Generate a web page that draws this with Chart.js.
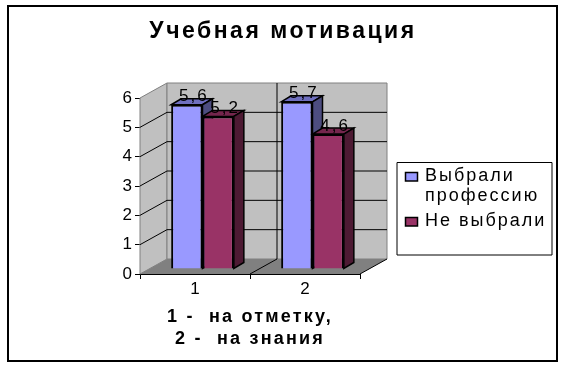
<!DOCTYPE html>
<html><head><meta charset="utf-8">
<style>html,body{margin:0;padding:0;background:#fff}#w{position:relative;width:569px;height:369px}</style>
<script src="https://cdn.jsdelivr.net/npm/chart.js@4"></script>
</head><body><div id="w"><canvas id="c" width="569" height="369"></canvas></div>
<script>
const categories = ['1', '2'];
const seriesNames = ['Выбрали профессию', 'Не выбрали'];
const chosen = [5.6, 5.7];
const notChosen = [5.2, 4.6];
const yTicks = [0, 1, 2, 3, 4, 5, 6];
const titleText = 'Учебная мотивация';
const axisTitle = ['1 -  на отметку,', '2 -  на знания'];
const legendLines = [['Выбрали', 'профессию'], ['Не выбрали']];

const FF = '"Liberation Sans", Arial, sans-serif';
const wallDX = 27, wallDY = -15;   // depth of the box
const barDX = 10, barDY = -6;      // depth of a bar
const shiftX = 7.5, shiftY = -5;   // bars stand mid-way in the box
const tones = [
  {front:'#9999FF', top:'#6F6FBF', side:'#4D4D80'},
  {front:'#993366', top:'#74264D', side:'#4D1A33'}
];

function poly(ctx, pts, fill, stroke, lw){
  ctx.beginPath();
  pts.forEach((p,i)=> i?ctx.lineTo(p[0],p[1]):ctx.moveTo(p[0],p[1]));
  ctx.closePath();
  if(fill){ctx.fillStyle=fill;ctx.fill();}
  if(stroke){ctx.strokeStyle=stroke;ctx.lineWidth=lw||1;ctx.stroke();}
}
function line(ctx,a,b,c,d,col,lw){
  ctx.beginPath();ctx.moveTo(a,b);ctx.lineTo(c,d);ctx.strokeStyle=col;ctx.lineWidth=lw||1;ctx.stroke();
}
function spaced(obj,name,ls){
  if(obj[name].__w) return;
  const f=obj[name];
  obj[name]=function(){
    const ctx=this.ctx;
    const old=ctx.letterSpacing;ctx.letterSpacing=ls;
    const r=f.apply(this,arguments);
    ctx.letterSpacing=old;return r;
  };
  obj[name].__w=true;
}

const scene = {
  id:'scene',
  afterLayout(chart){
    const tb=chart.titleBlock;
    tb.left=0;tb.right=566;tb.width=566;
    spaced(tb,'draw','2.5px');
    spaced(chart.scales.x,'drawTitle','2.2px');
  },
  beforeDraw(chart){
    const ctx=chart.ctx;
    ctx.save();
    ctx.fillStyle='#fff';ctx.fillRect(0,0,569,369);
    ctx.strokeStyle='#000';ctx.lineWidth=2;ctx.strokeRect(8,6,549,355);
    ctx.restore();
  },
  beforeDatasetsDraw(chart){
    const ctx=chart.ctx, x=chart.scales.x, y=chart.scales.y;
    const L=x.left,R=x.right,B=y.getPixelForValue(0),T=y.getPixelForValue(6);
    ctx.save();
    // walls and floor
    poly(ctx,[[L,T],[L+wallDX,T+wallDY],[L+wallDX,B+wallDY],[L,B]],'#C0C0C0','#808080');
    poly(ctx,[[L+wallDX,T+wallDY],[R+wallDX,T+wallDY],[R+wallDX,B+wallDY],[L+wallDX,B+wallDY]],'#C0C0C0','#808080');
    poly(ctx,[[L,B],[L+wallDX,B+wallDY],[R+wallDX,B+wallDY],[R,B]],'#808080',null);
    yTicks.slice(1,-1).forEach(v=>{
      const p=y.getPixelForValue(v);
      line(ctx,L,p,L+wallDX,p+wallDY,'#000');
      line(ctx,L+wallDX,p+wallDY,R+wallDX,p+wallDY,'#000');
    });
    const mid=(L+R)/2;
    line(ctx,mid+wallDX,T+wallDY,mid+wallDX,B+wallDY,'#000');
    line(ctx,mid,B,mid+wallDX,B+wallDY,'#000');
    line(ctx,R,B,R+wallDX,B+wallDY,'#000');
    ctx.restore();
    // shift bars into the box, draw their depth faces
    ctx.save();
    ctx.translate(shiftX,shiftY);
    categories.forEach((_,j)=>{
      chart.data.datasets.forEach((ds,i)=>{
        const b=chart.getDatasetMeta(i).data[j];
        const l=b.x-b.width/2,r=b.x+b.width/2,t=b.y,bt=b.base;
        poly(ctx,[[l,t],[l+barDX,t+barDY],[r+barDX,t+barDY],[r,t]],tones[i].top,'#000',1.5);
        poly(ctx,[[r,t],[r+barDX,t+barDY],[r+barDX,bt+barDY],[r,bt]],tones[i].side,'#000',1.5);
      });
    });
  },
  afterDatasetsDraw(chart){
    const ctx=chart.ctx;
    // value labels
    ctx.font='17px '+FF;ctx.letterSpacing='2px';ctx.fillStyle='#000';ctx.textAlign='center';ctx.textBaseline='middle';
    chart.data.datasets.forEach((ds,i)=>{
      chart.getDatasetMeta(i).data.forEach((b,j)=>{
        ctx.fillText(String(ds.data[j]).replace('.',','),b.x+7,b.y-8);
      });
    });
    ctx.letterSpacing='0px';
    ctx.restore();
    // legend
    ctx.save();
    poly(ctx,[[397,162.5],[552,162.5],[552,255],[397,255]],'#fff','#000',1);
    ctx.font='18px '+FF;ctx.letterSpacing='2px';ctx.fillStyle='#000';ctx.textAlign='left';ctx.textBaseline='middle';
    const ys=[[176,196],[221]];
    legendLines.forEach((ls,i)=>{
      poly(ctx,[[405.5,ys[i][0]-3.5],[417.5,ys[i][0]-3.5],[417.5,ys[i][0]+5],[405.5,ys[i][0]+5]],tones[i].front,'#000',1.5);
      ctx.fillStyle='#000';
      ls.forEach((t,k)=>ctx.fillText(t,425,ys[i][k]));
    });
    ctx.letterSpacing='0px';
    ctx.restore();
  }
};

new Chart(document.getElementById('c'),{
  type:'bar',
  data:{labels:categories,datasets:[
    {label:seriesNames[0],data:chosen,backgroundColor:tones[0].front,borderColor:'#000',borderWidth:2},
    {label:seriesNames[1],data:notChosen,backgroundColor:tones[1].front,borderColor:'#000',borderWidth:2}
  ]},
  options:{
    responsive:false,animation:false,
    layout:{padding:{left:0,right:209,top:0,bottom:0}},
    datasets:{bar:{categoryPercentage:0.57,barPercentage:1}},
    plugins:{
      legend:{display:false},tooltip:{enabled:false},
      title:{display:true,text:titleText,color:'#000',align:'center',
        font:{family:FF,size:23,weight:'bold',lineHeight:1.2},padding:{top:18,bottom:52.4}}
    },
    scales:{
      x:{
        afterFit(s){s.height=95;},
        border:{color:'#000',width:1},
        grid:{drawOnChartArea:false,color:'#000',tickLength:5},
        ticks:{color:'#000',font:{family:FF,size:17},padding:0,maxRotation:0},
        title:{display:true,text:axisTitle,color:'#000',font:{family:FF,size:18,weight:'bold',lineHeight:1.22},padding:{top:0,bottom:19}}
      },
      y:{
        min:0,max:6,
        afterFit(s){s.width=140;},
        afterBuildTicks(s){s.ticks=yTicks.map(v=>({value:v}));},
        border:{color:'#000',width:1},
        grid:{drawOnChartArea:false,color:'#000',tickLength:5},
        ticks:{color:'#000',font:{family:FF,size:17},padding:3}
      }
    }
  },
  plugins:[scene]
});
</script></body></html>
